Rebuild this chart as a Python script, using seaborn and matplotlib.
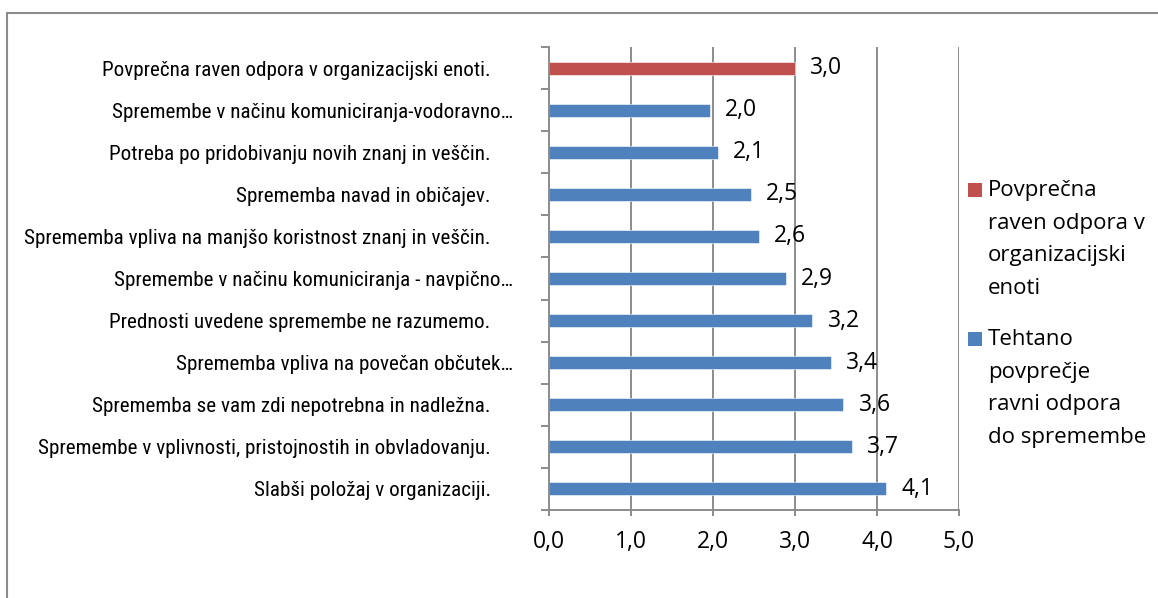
import matplotlib
matplotlib.use("Agg")
import matplotlib.pyplot as plt
from matplotlib import font_manager
from matplotlib.font_manager import FontProperties
from matplotlib.patches import Rectangle
from matplotlib.ticker import FixedLocator
import seaborn as sns
import pandas as pd

categories = [
    "Povprečna raven odpora v organizacijski enoti.",
    "Spremembe v načinu komuniciranja-vodoravno…",
    "Potreba po pridobivanju novih znanj in veščin.",
    "Sprememba navad in običajev.",
    "Sprememba vpliva na manjšo koristnost znanj in veščin.",
    "Spremembe v načinu komuniciranja - navpično…",
    "Prednosti uvedene spremembe ne razumemo.",
    "Sprememba vpliva na povečan občutek…",
    "Sprememba se vam zdi nepotrebna in nadležna.",
    "Spremembe v vplivnosti, pristojnostih in obvladovanju.",
    "Slabši položaj v organizaciji.",
]
values = [3.0, 1.96, 2.06, 2.46, 2.56, 2.89, 3.21, 3.44, 3.59, 3.69, 4.11]
series = ["Povprečna raven odpora v organizacijski enoti"] + \
         ["Tehtano povprečje ravni odpora do spremembe"] * 10
series_names = ["Povprečna raven odpora v organizacijski enoti",
                "Tehtano povprečje ravni odpora do spremembe"]
legend_labels = ["Povprečna\nraven odpora v\norganizacijski\nenoti",
                 "Tehtano\npovprečje\nravni odpora\ndo spremembe"]
colors = ["#C0504D", "#4F81BD"]
x_ticks = [0, 1, 2, 3, 4, 5]

sns.set_theme(style="white")
ttf = font_manager.fontManager.ttflist
names = {f.name for f in ttf}
num_font = "Open Sans" if "Open Sans" in names else "DejaVu Sans"
plt.rcParams["font.family"] = [num_font, "DejaVu Sans"]


def pick_narrow():
    prefs = ["Liberation Sans Narrow", "Roboto Condensed", "Open Sans Condensed",
             "Noto Sans Condensed", "DejaVu Sans Condensed"]
    for p in prefs:
        for f in ttf:
            if f.name == p and f.weight in (400, "normal", "regular") and f.style == "normal":
                return FontProperties(fname=f.fname)
    for f in ttf:
        st = str(f.stretch).lower()
        if ("condensed" in st or "narrow" in st or "condensed" in f.fname.lower()) \
                and f.style == "normal" and "bold" not in f.fname.lower() \
                and "light" not in f.fname.lower():
            return FontProperties(fname=f.fname)
    return FontProperties(family="DejaVu Sans")


cat_fp = pick_narrow()

df = pd.DataFrame({"cat": categories, "val": values, "ser": series})

fig = plt.figure(figsize=(11.58, 5.98), dpi=100)
ax = fig.add_axes([549/1158, 1 - 510/598, (959-549)/1158, (510-47)/598])

sns.barplot(data=df, y="cat", x="val", hue="ser", hue_order=series_names,
            palette=colors, dodge=False, width=0.31, ax=ax, legend=False,
            saturation=1, edgecolor="#ffffff", linewidth=0.4)

ax.set_xlim(0, 5)
ax.set_ylim(10.5, -0.5)
ax.set_xlabel("")
ax.set_ylabel("")
grid_c = "#8c8c8c"
ax.set_xticks(x_ticks)
ax.set_xticklabels([f"{t:.1f}".replace(".", ",") for t in x_ticks],
                   fontsize=16.5, color="#000000")
ax.xaxis.grid(True, color=grid_c, linewidth=1.4)
ax.yaxis.grid(False)
ax.set_axisbelow(True)
for s in ["top", "right"]:
    ax.spines[s].set_visible(False)
for s in ["left", "bottom"]:
    ax.spines[s].set_color(grid_c)
    ax.spines[s].set_linewidth(1.4)
ax.tick_params(axis="x", which="major", length=4.5, width=1.4, color=grid_c,
               pad=10, bottom=True)
ax.yaxis.set_minor_locator(FixedLocator([i - 0.5 for i in range(len(categories) + 1)]))
ax.tick_params(axis="y", which="minor", length=5.5, width=1.4, color=grid_c, left=True)
ax.tick_params(axis="y", which="major", length=0, left=False)
ax.set_yticklabels(categories, color="#000000")
ylabs = ax.get_yticklabels()
fs = 15.0
for t in ylabs:
    t.set_fontproperties(cat_fp)
    t.set_fontsize(fs)
for lab, tk in zip(categories, ax.yaxis.get_major_ticks()):
    tk.set_pad(26 if lab.endswith("…") else 42)

# fit the condensed label size so the longest label fills the space left of the axis
fig.canvas.draw()
r = fig.canvas.get_renderer()
wmax = max(t.get_window_extent(r).width for t in ylabs)
fs_fit = min(17.0, fs * 468.0 / wmax)
for t in ylabs:
    t.set_fontsize(fs_fit)

for cont in ax.containers:
    labs = [f"{p.get_width():.1f}".replace(".", ",") if p.get_width() > 0 else ""
            for p in cont]
    ax.bar_label(cont, labels=labs, padding=11, fontsize=16.5, color="#000000")

# legend at right, entries top-aligned with their first line
leg_x = 968 / 1158
tops = [183, 332]
for lab, col, top in zip(legend_labels, colors, tops):
    fig.patches.append(Rectangle((leg_x, 1 - (top + 14) / 598), 14 / 1158, 14 / 598,
                                 transform=fig.transFigure, facecolor=col,
                                 edgecolor="none"))
    fig.text(988 / 1158, 1 - (top - 3) / 598, lab, fontsize=16, va="top",
             ha="left", linespacing=1.72, color="#000000")

# outer chart frame
fig.patches.append(Rectangle((6.5 / 1158, -0.2), 2, 1.2 - 12.5 / 598,
                             transform=fig.transFigure, fill=False,
                             edgecolor="#8c8c8c", linewidth=1.5, clip_on=False))

fig.savefig("out.png", dpi=100)
